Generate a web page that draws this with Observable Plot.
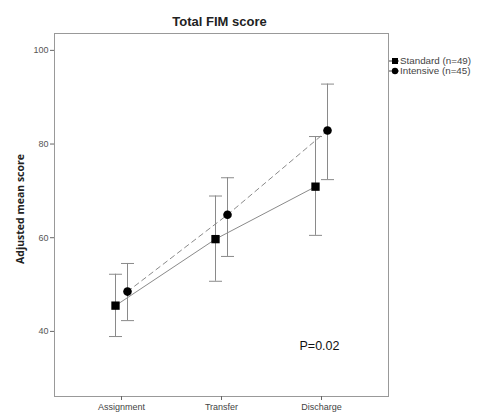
<!DOCTYPE html>
<html>
<head>
<meta charset="utf-8">
<script src="https://cdn.jsdelivr.net/npm/d3@7"></script>
<script src="https://cdn.jsdelivr.net/npm/@observablehq/plot@0.6"></script>
<style>
  html, body { margin: 0; padding: 0; background: #fff; }
  #chart svg { font-family: "Liberation Sans", Arial, sans-serif; display: block; }
</style>
</head>
<body>
<div id="chart"></div>
<script>
const chartTitle = "Total FIM score";
const yLabel = "Adjusted mean score";
const phases = ["Assignment", "Transfer", "Discharge"];
const groups = ["Standard (n=49)", "Intensive (n=45)"];
const standardMean = [45.5, 59.7, 70.9];
const standardLow = [38.9, 50.7, 60.5];
const standardHigh = [52.2, 68.9, 81.6];
const intensiveMean = [48.5, 64.9, 82.9];
const intensiveLow = [42.3, 56.0, 72.4];
const intensiveHigh = [54.5, 72.8, 92.8];
const yTicks = [40, 60, 80, 100];
const pText = "P=0.02";

const standardRows = phases.map((p, i) => ({phase: p, mean: standardMean[i], low: standardLow[i], high: standardHigh[i]}));
const intensiveRows = phases.map((p, i) => ({phase: p, mean: intensiveMean[i], low: intensiveLow[i], high: intensiveHigh[i]}));

const capSymbol = {draw(ctx) { ctx.moveTo(-6.5, 0); ctx.lineTo(6.5, 0); }};
const grey = "#8a8a8a";
const off = 6;

function errorMarks(rows, dx, stroke, sw) {
  return [
    Plot.ruleX(rows, {x: "phase", y1: "low", y2: "high", dx, stroke, strokeWidth: sw}),
    Plot.dot(rows, {x: "phase", y: "low", dx, symbol: capSymbol, fill: "none", stroke, strokeWidth: sw}),
    Plot.dot(rows, {x: "phase", y: "high", dx, symbol: capSymbol, fill: "none", stroke, strokeWidth: sw})
  ];
}

const plot = Plot.plot({
  width: 479,
  height: 415,
  marginTop: 33,
  marginBottom: 19,
  marginLeft: 54,
  marginRight: 91,
  style: {fontFamily: "'Liberation Sans', Arial, sans-serif", background: "#fff"},
  x: {type: "point", domain: phases, padding: 0.667},
  y: {domain: [26.1, 103.6]},
  marks: [
    Plot.frame({stroke: "#999"}),
    Plot.axisY(yTicks, {tickSize: 4, tickPadding: 2, label: null, fontSize: 9, fill: "#555", stroke: "#666"}),
    Plot.axisX({tickSize: 4, tickPadding: 3, label: null, fontSize: 9, fill: "#444", stroke: "#666"}),
    Plot.text([chartTitle], {frameAnchor: "top", dy: -17, dx: -2, fontSize: 13, fontWeight: "bold", fill: "#222"}),
    Plot.text([yLabel], {frameAnchor: "left", textAnchor: "middle", rotate: -90, dx: -34, dy: -6, fontSize: 10.5, fontWeight: "bold", fill: "#222", fontFamily: "'Open Sans', sans-serif"}),
    ...errorMarks(standardRows, -off, grey, 1),
    ...errorMarks(intensiveRows, off, grey, 1),
    Plot.line(standardRows, {x: "phase", y: "mean", dx: -off, stroke: grey, strokeWidth: 1}),
    Plot.line(intensiveRows, {x: "phase", y: "mean", dx: off, stroke: grey, strokeWidth: 1, strokeDasharray: "5,4"}),
    Plot.dot(standardRows, {x: "phase", y: "mean", dx: -off, symbol: "square", r: 4.7, fill: "#000"}),
    Plot.dot(intensiveRows, {x: "phase", y: "mean", dx: off, symbol: "circle", r: 4.3, fill: "#000"}),
    Plot.text([pText], {frameAnchor: "bottom-right", dx: -89, dy: -47, textAnchor: "start", fontSize: 12.5, fill: "#111"})
  ]
});

// legend (to the right of the frame)
const svg = d3.select(plot);
const lg = svg.append("g").attr("font-size", 9.8).attr("fill", "#444").attr("text-anchor", "start");
groups.forEach((g, i) => {
  const y = 61 + i * 10;
  const row = lg.append("g").attr("transform", `translate(389,${y})`);
  row.append("line").attr("x1", 0).attr("x2", 10).attr("y1", 0).attr("y2", 0).attr("stroke", "#444");
  if (i === 0) row.append("rect").attr("x", 3).attr("y", -3).attr("width", 6).attr("height", 6).attr("fill", "#000");
  else row.append("circle").attr("cx", 6).attr("cy", 0).attr("r", 3.2).attr("fill", "#000");
  row.append("text").attr("x", 11).attr("dy", "0.35em").attr("text-anchor", "start").text(g);
});

document.getElementById("chart").appendChild(plot);
</script>
</body>
</html>
